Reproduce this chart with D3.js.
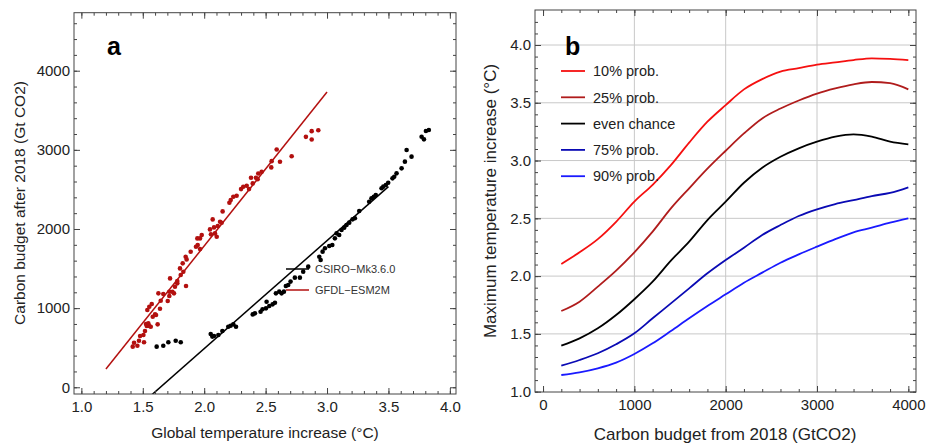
<!DOCTYPE html>
<html>
<head>
<meta charset="utf-8">
<script src="https://cdn.jsdelivr.net/npm/d3@7"></script>
<style>
    body { margin: 0; background: #fff; }
    svg { display: block; font-family: "Liberation Sans", Arial, sans-serif; }
</style>
</head>
<body>
<svg id="chart" width="933" height="448"></svg>
<script>
// panel a: GFDL-ESM2M points (temperature, budget)
const gfdlTemp = [1.418, 1.456, 1.429, 1.469, 1.478, 1.510, 1.505, 1.518, 1.532, 1.553, 1.565, 1.526, 1.545,
    1.581, 1.600, 1.537, 1.553, 1.573, 1.608, 1.621, 1.646, 1.640, 1.627, 1.667, 1.703, 1.716, 1.716, 1.741,
    1.722, 1.754, 1.762, 1.781, 1.781, 1.809, 1.803, 1.830, 1.852, 1.825, 1.849, 1.857, 1.890, 1.933, 1.947,
    1.966, 1.966, 1.980, 1.944, 2.047, 2.055, 2.088, 2.080, 2.102, 2.110, 2.129, 2.069, 2.142, 2.150, 2.205,
    2.216, 2.237, 2.264, 2.300, 2.318, 2.346, 2.365, 2.381, 2.395, 2.421, 2.440, 2.435, 2.468, 2.549, 2.546,
    2.590, 2.617, 2.712, 2.828, 2.875, 2.875, 2.929];
const gfdlBudget = [513, 525, 563, 588, 648, 568, 660, 711, 774, 774, 765, 799, 808,
    891, 921, 976, 1018, 1052, 913, 795, 1094, 992, 1187, 1178, 1090, 1153, 1207, 1207,
    1376, 1187, 1270, 1313, 1342, 1418, 1502, 1460, 1279, 1566, 1649, 1616, 1712, 1775, 1797,
    1746, 1881, 1923, 1881, 1995, 1932, 1944, 2020, 1902, 2037, 2091, 2121, 2078, 2222, 2331,
    2365, 2407, 2420, 2504, 2533, 2546, 2504, 2647, 2576, 2647, 2702, 2630, 2722, 2857, 2778,
    3005, 2849, 2920, 3164, 3236, 3131, 3248];

// panel a: CSIRO-Mk3.6.0 points
const csiroTemp = [1.613, 1.667, 1.708, 1.768, 1.809, 2.053, 2.066, 2.080, 2.115, 2.148, 2.196, 2.215, 2.237,
    2.259, 2.395, 2.413, 2.459, 2.475, 2.508, 2.503, 2.530, 2.557, 2.576, 2.584, 2.611, 2.630, 2.649, 2.665,
    2.684, 2.703, 2.738, 2.779, 2.806, 2.847, 2.937, 2.948, 2.964, 2.983, 3.018, 3.043, 3.064, 3.078, 3.099,
    3.118, 3.140, 3.159, 3.181, 3.208, 3.227, 3.262, 3.343, 3.362, 3.381, 3.397, 3.444, 3.458, 3.479, 3.498,
    3.533, 3.547, 3.566, 3.607, 3.634, 3.648, 3.688, 3.770, 3.789, 3.805, 3.829];
const csiroBudget = [513, 525, 568, 588, 568, 673, 640, 648, 660, 711, 765, 778, 795,
    765, 921, 934, 955, 985, 1081, 997, 1026, 1048, 1068, 1187, 1208, 1187, 1208, 1280,
    1293, 1335, 1385, 1385, 1461, 1524, 1650, 1608, 1714, 1756, 1785, 1798, 1882, 1945, 1924,
    1987, 2017, 2051, 2080, 2122, 2135, 2227, 2345, 2387, 2408, 2429, 2514, 2535, 2556, 2585,
    2640, 2661, 2703, 2766, 2851, 2998, 2914, 3166, 3133, 3238, 3250];

// fitted lines (end points)
const gfdlFitTemp = [1.2, 3.0];
const gfdlFitBudget = [230, 3730];
const csiroFitTemp = [1.5, 3.5];
const csiroFitBudget = [-195, 2536];

const legendA = ["CSIRO\u2212Mk3.6.0", "GFDL\u2212ESM2M"];
const xTicksA = [1.0, 1.5, 2.0, 2.5, 3.0, 3.5, 4.0];
const yTicksA = [0, 1000, 2000, 3000, 4000];

// panel b: maximum temperature vs budget
const budgetB = [200, 400, 600, 800, 1000, 1200, 1400, 1600, 1800, 2000, 2200, 2400, 2600, 2800, 3000,
    3200, 3400, 3600, 3800, 4000];
const prob10 = [2.105, 2.206, 2.32, 2.47, 2.645, 2.79, 2.96, 3.155, 3.336, 3.48, 3.616, 3.705, 3.77, 3.80,
    3.83, 3.85, 3.87, 3.885, 3.88, 3.87];
const prob25 = [1.698, 1.779, 1.909, 2.047, 2.206, 2.385, 2.586, 2.76, 2.93, 3.085, 3.235, 3.365, 3.45, 3.52,
    3.58, 3.625, 3.66, 3.68, 3.67, 3.616];
const probEven = [1.398, 1.461, 1.548, 1.663, 1.80, 1.952, 2.134, 2.298, 2.485, 2.644, 2.808, 2.938, 3.033,
    3.106, 3.163, 3.207, 3.227, 3.207, 3.163, 3.14];
const prob75 = [1.225, 1.274, 1.332, 1.41, 1.505, 1.635, 1.764, 1.894, 2.024, 2.139, 2.246, 2.356, 2.442,
    2.52, 2.578, 2.624, 2.658, 2.693, 2.72, 2.768];
const prob90 = [1.144, 1.167, 1.202, 1.251, 1.326, 1.418, 1.525, 1.635, 1.741, 1.842, 1.943, 2.03, 2.116,
    2.188, 2.255, 2.32, 2.379, 2.419, 2.462, 2.5];

const seriesNames = ["10% prob.", "25% prob.", "even chance", "75% prob.", "90% prob."];
const seriesColors = ["#f51010", "#b01c1c", "#000000", "#0a0ab4", "#1a1aff"];
const xTicksB = [0, 1000, 2000, 3000, 4000];
const yTicksB = [1.0, 1.5, 2.0, 2.5, 3.0, 3.5, 4.0];

const darkRed = "#b3100f";
const frameColor = "#444";

const svg = d3.select("#chart");

// draws a Mathematica-like frame with inward ticks on all four sides
function drawFrame(g, x, y, majorX, majorY, minorX, minorY, fmtX, fmtY) {
    const [x0, x1] = x.range();
    const [y0, y1] = y.range();

    const sides = [
        { axis: d3.axisBottom, scale: x, t: `translate(0,${y0})`, major: majorX, minor: minorX, fmt: fmtX, pad: 7 },
        { axis: d3.axisTop, scale: x, t: `translate(0,${y1})`, major: majorX, minor: minorX, fmt: null },
        { axis: d3.axisLeft, scale: y, t: `translate(${x0},0)`, major: majorY, minor: minorY, fmt: fmtY, pad: 4 },
        { axis: d3.axisRight, scale: y, t: `translate(${x1},0)`, major: majorY, minor: minorY, fmt: null }
    ];

    sides.forEach(s => {
        const minorAxis = s.axis(s.scale).tickValues(s.minor).tickSize(-3).tickFormat("");
        g.append("g").attr("transform", s.t).call(minorAxis)
            .call(a => a.select(".domain").remove())
            .selectAll("line").attr("stroke", frameColor);

        const majorAxis = s.axis(s.scale).tickValues(s.major).tickSize(-6)
            .tickPadding(s.pad || 3)
            .tickFormat(s.fmt ? s.fmt : "");
        g.append("g").attr("transform", s.t).call(majorAxis)
            .call(a => a.select(".domain").remove())
            .call(a => a.selectAll("line").attr("stroke", frameColor))
            .call(a => a.selectAll("text").attr("fill", "#222").style("font-size", "15px"));
    });

    g.append("rect")
        .attr("x", x0).attr("y", y1)
        .attr("width", x1 - x0).attr("height", y0 - y1)
        .attr("fill", "none")
        .attr("stroke", frameColor)
        .attr("stroke-width", 1);
}

// ---------- panel a ----------
const xA = d3.scaleLinear().domain([0.94, 4.05]).range([74, 456]);
const yA = d3.scaleLinear().domain([-85, 4733]).range([394, 12.7]);

const gA = svg.append("g");

gA.append("clipPath").attr("id", "clipA")
    .append("rect")
    .attr("x", 74).attr("y", 12.7).attr("width", 456 - 74).attr("height", 394 - 12.7);

const plotA = gA.append("g").attr("clip-path", "url(#clipA)");

const fitLine = d3.line().x(d => xA(d[0])).y(d => yA(d[1]));

plotA.append("path")
    .attr("d", fitLine(d3.zip(gfdlFitTemp, gfdlFitBudget)))
    .attr("stroke", darkRed).attr("stroke-width", 1.5).attr("fill", "none");

plotA.append("path")
    .attr("d", fitLine(d3.zip(csiroFitTemp, csiroFitBudget)))
    .attr("stroke", "#000").attr("stroke-width", 1.5).attr("fill", "none");

plotA.selectAll("circle.gfdl")
    .data(d3.zip(gfdlTemp, gfdlBudget))
    .enter()
    .append("circle")
    .attr("class", "gfdl")
    .attr("cx", d => xA(d[0]))
    .attr("cy", d => yA(d[1]))
    .attr("r", 2.3)
    .attr("fill", darkRed);

plotA.selectAll("circle.csiro")
    .data(d3.zip(csiroTemp, csiroBudget))
    .enter()
    .append("circle")
    .attr("class", "csiro")
    .attr("cx", d => xA(d[0]))
    .attr("cy", d => yA(d[1]))
    .attr("r", 2.3)
    .attr("fill", "#000");

drawFrame(gA, xA, yA, xTicksA, yTicksA,
    d3.range(1.0, 4.01, 0.1), d3.range(0, 4700, 200),
    d3.format(".1f"), d3.format("d"));

// legend a
const legA = gA.append("g").attr("transform", "translate(286,269)");
legendA.forEach((name, i) => {
    legA.append("line")
        .attr("x1", 0).attr("x2", 23)
        .attr("y1", i * 21).attr("y2", i * 21)
        .attr("stroke", i === 0 ? "#000" : darkRed)
        .attr("stroke-width", 1.5);
    legA.append("text")
        .attr("x", 29).attr("y", i * 21)
        .attr("dy", "0.36em")
        .style("font-size", "11px")
        .attr("fill", "#333")
        .text(name);
});

gA.append("text")
    .attr("x", 107).attr("y", 55)
    .style("font-size", "25px").style("font-weight", "bold")
    .text("a");

gA.append("text")
    .attr("x", 265).attr("y", 438)
    .attr("text-anchor", "middle")
    .style("font-size", "15.5px")
    .attr("fill", "#222")
    .text("Global temperature increase (°C)");

gA.append("text")
    .attr("transform", "translate(25,203) rotate(-90)")
    .attr("text-anchor", "middle")
    .style("font-size", "15.5px")
    .attr("fill", "#222")
    .text("Carbon budget after 2018 (Gt CO2)");

// ---------- panel b ----------
const xB = d3.scaleLinear().domain([-88, 4084]).range([535, 916]);
const yB = d3.scaleLinear().domain([0.997, 4.303]).range([392, 10]);

const gB = svg.append("g");

// grid lines
gB.selectAll("line.gx")
    .data([1000, 2000, 3000])
    .enter()
    .append("line")
    .attr("x1", d => xB(d)).attr("x2", d => xB(d))
    .attr("y1", 10).attr("y2", 392)
    .attr("stroke", "#c8c8c8").attr("stroke-width", 1);

gB.selectAll("line.gy")
    .data(yTicksB.slice(1))
    .enter()
    .append("line")
    .attr("x1", 535).attr("x2", 916)
    .attr("y1", d => yB(d)).attr("y2", d => yB(d))
    .attr("stroke", "#c8c8c8").attr("stroke-width", 1);

const seriesB = [prob10, prob25, probEven, prob75, prob90];

const lineB = d3.line()
    .x((d, i) => xB(budgetB[i]))
    .y(d => yB(d))
    .curve(d3.curveMonotoneX);

gB.selectAll("path.series")
    .data(seriesB)
    .enter()
    .append("path")
    .attr("class", "series")
    .attr("d", d => lineB(d))
    .attr("fill", "none")
    .attr("stroke", (d, i) => seriesColors[i])
    .attr("stroke-width", 1.8);

drawFrame(gB, xB, yB, xTicksB, yTicksB,
    d3.range(0, 4001, 200), d3.range(1.0, 4.3, 0.1),
    d3.format("d"), d3.format(".1f"));

// legend b
const legB = gB.append("g").attr("transform", "translate(561,71)");
seriesNames.forEach((name, i) => {
    legB.append("line")
        .attr("x1", 0).attr("x2", 24)
        .attr("y1", i * 26.3).attr("y2", i * 26.3)
        .attr("stroke", seriesColors[i])
        .attr("stroke-width", 1.8);
    legB.append("text")
        .attr("x", 32).attr("y", i * 26.3)
        .attr("dy", "0.36em")
        .style("font-size", "14.5px")
        .attr("fill", "#222")
        .text(name);
});

gB.append("text")
    .attr("x", 565).attr("y", 55)
    .style("font-size", "25px").style("font-weight", "bold")
    .text("b");

gB.append("text")
    .attr("x", 725).attr("y", 440)
    .attr("text-anchor", "middle")
    .style("font-size", "17px")
    .attr("fill", "#222")
    .text("Carbon budget from 2018 (GtCO2)");

gB.append("text")
    .attr("transform", "translate(496,201) rotate(-90)")
    .attr("text-anchor", "middle")
    .style("font-size", "17px")
    .attr("fill", "#222")
    .text("Maximum temperature increase (°C)");
</script>
</body>
</html>
